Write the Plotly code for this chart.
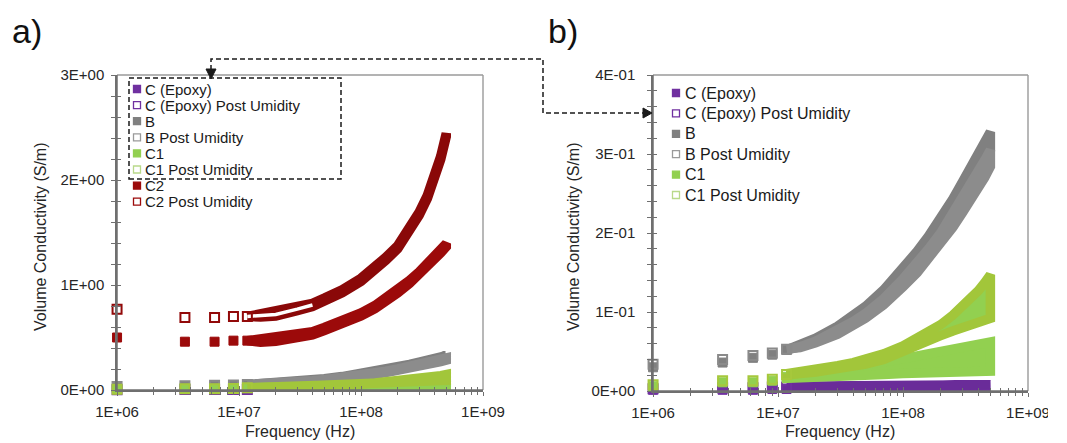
import plotly.graph_objects as go

W, H = 1067, 443

# ---------------- data ----------------
# frequency sweep points (MHz)
freq_mhz = [1, 3.6, 6.3, 9.0, 11.7, 15, 20, 30, 40, 50, 70, 100, 130, 160, 200, 250, 300, 350, 400, 450, 500]

# volume conductivity (S/m): lower / upper edge of each sample band
epoxy_lo      = [0.001, 0.001, 0.001, 0.002, 0.002, 0.002, 0.002, 0.002, 0.003, 0.003, 0.003, 0.003, 0.003, 0.004, 0.004, 0.004, 0.004, 0.004, 0.005, 0.005, 0.005]
epoxy_hi      = [0.002, 0.002, 0.002, 0.003, 0.003, 0.003, 0.003, 0.003, 0.004, 0.004, 0.004, 0.004, 0.005, 0.005, 0.005, 0.005, 0.006, 0.006, 0.006, 0.006, 0.006]
epoxy_post_lo = [0.003, 0.004, 0.004, 0.005, 0.004, 0.004, 0.004, 0.004, 0.004, 0.004, 0.005, 0.005, 0.005, 0.005, 0.005, 0.006, 0.006, 0.006, 0.006, 0.007, 0.007]
epoxy_post_hi = [0.003, 0.004, 0.004, 0.005, 0.006, 0.006, 0.006, 0.006, 0.006, 0.006, 0.006, 0.007, 0.007, 0.007, 0.007, 0.007, 0.008, 0.008, 0.008, 0.008, 0.008]
b_lo          = [0.030, 0.036, 0.042, 0.046, 0.052, 0.056, 0.063, 0.076, 0.088, 0.098, 0.117, 0.142, 0.162, 0.180, 0.200, 0.224, 0.244, 0.262, 0.278, 0.292, 0.305]
b_hi          = [0.030, 0.036, 0.042, 0.046, 0.052, 0.058, 0.067, 0.082, 0.095, 0.107, 0.128, 0.155, 0.177, 0.196, 0.218, 0.243, 0.265, 0.284, 0.300, 0.315, 0.328]
b_post_lo     = [0.034, 0.040, 0.045, 0.048, 0.053, 0.055, 0.061, 0.072, 0.083, 0.092, 0.109, 0.132, 0.150, 0.167, 0.186, 0.207, 0.226, 0.242, 0.256, 0.270, 0.284]
b_post_hi     = [0.034, 0.040, 0.045, 0.048, 0.053, 0.056, 0.063, 0.076, 0.088, 0.098, 0.117, 0.142, 0.162, 0.180, 0.200, 0.224, 0.244, 0.262, 0.278, 0.292, 0.305]
c1_lo         = [0.006, 0.011, 0.011, 0.013, 0.016, 0.017, 0.018, 0.019, 0.020, 0.020, 0.021, 0.022, 0.022, 0.023, 0.023, 0.023, 0.024, 0.024, 0.025, 0.025, 0.025]
c1_hi         = [0.006, 0.011, 0.011, 0.013, 0.020, 0.022, 0.024, 0.028, 0.031, 0.033, 0.037, 0.041, 0.044, 0.047, 0.049, 0.052, 0.054, 0.056, 0.058, 0.060, 0.062]
c1_post_lo    = [0.008, 0.013, 0.013, 0.015, 0.020, 0.022, 0.024, 0.028, 0.031, 0.034, 0.040, 0.049, 0.057, 0.064, 0.070, 0.076, 0.080, 0.084, 0.087, 0.090, 0.092]
c1_post_hi    = [0.008, 0.013, 0.013, 0.015, 0.022, 0.024, 0.027, 0.032, 0.036, 0.040, 0.047, 0.057, 0.066, 0.075, 0.084, 0.096, 0.107, 0.117, 0.127, 0.137, 0.147]
c2_lo         = [0.50, 0.46, 0.46, 0.47, 0.47, 0.455, 0.465, 0.495, 0.525, 0.565, 0.625, 0.705, 0.775, 0.845, 0.925, 1.015, 1.095, 1.175, 1.245, 1.305, 1.365]
c2_hi         = [0.50, 0.46, 0.46, 0.47, 0.47, 0.485, 0.495, 0.525, 0.555, 0.595, 0.655, 0.735, 0.805, 0.875, 0.955, 1.045, 1.125, 1.205, 1.275, 1.335, 1.395]
c2_post_lo    = [0.77, 0.69, 0.69, 0.70, 0.70, 0.695, 0.705, 0.755, 0.795, 0.845, 0.925, 1.035, 1.135, 1.235, 1.345, 1.505, 1.665, 1.825, 1.995, 2.195, 2.415]
c2_post_hi    = [0.77, 0.69, 0.69, 0.70, 0.70, 0.725, 0.735, 0.785, 0.825, 0.875, 0.955, 1.065, 1.165, 1.265, 1.375, 1.535, 1.695, 1.855, 2.025, 2.225, 2.445]

series_names = ["C (Epoxy)", "C (Epoxy) Post Umidity", "B", "B Post Umidity",
                "C1", "C1 Post Umidity", "C2", "C2 Post Umidity"]

x_tick_vals = [1e6, 1e7, 1e8, 1e9]
x_tick_text = ["1E+06", "1E+07", "1E+08", "1E+09"]
ya_tick_vals = [0, 1, 2, 3]
ya_tick_text = ["0E+00", "1E+00", "2E+00", "3E+00"]
yb_tick_vals = [0, 0.1, 0.2, 0.3, 0.4]
yb_tick_text = ["0E+00", "1E-01", "2E-01", "3E-01", "4E-01"]

# ---------------- styling ----------------
FONT = "Liberation Sans, Arial, sans-serif"
AXC = "#6f6f6f"
FRAME = "#9a9a9a"
TXT = "#262626"
N_SPARSE = 5   # first sweep points drawn as separate squares
N_HOLLOW = 9   # open-marker band still shows white interiors up to this point
XR = [5.9995, 9.0]  # log10 range (tiny pad so the 1 MHz points stay visible)

styles = [
    dict(lo=epoxy_lo, hi=epoxy_hi, col="#7030A0", fill="#7030A0", edge="#7030A0", open=False),
    dict(lo=epoxy_post_lo, hi=epoxy_post_hi, col="#7030A0", fill="#6a2c99", edge="#6a2c99", open=True),
    dict(lo=b_lo, hi=b_hi, col="#808080", fill="#808080", edge="#808080", open=False),
    dict(lo=b_post_lo, hi=b_post_hi, col="#8a8a8a", fill="#9c9c9c", edge="#8c8c8c", open=True),
    dict(lo=c1_lo, hi=c1_hi, col="#92D050", fill="#92D050", edge="#92D050", open=False),
    dict(lo=c1_post_lo, hi=c1_post_hi, col="#A6C83C", fill="#92D050", edge="#A2C63A", open=True),
    dict(lo=c2_lo, hi=c2_hi, col="#9C0A0A", fill="#9C0A0A", edge="#9C0A0A", open=False),
    dict(lo=c2_post_lo, hi=c2_post_hi, col="#920909", fill="#980A0A", edge="#8A0808", open=True, hollow=True),
]
legend_cols = ["#7030A0", "#7030A0", "#808080", "#9a9a9a", "#92D050", "#B9D98A", "#9C0A0A", "#9C0A0A"]

freq = [v * 1e6 for v in freq_mhz]


def px(x):
    return x / W


def py(y):
    return 1 - y / H


fig = go.Figure()


def add_series(st, xa, ya):
    lo, hi = st["lo"], st["hi"]
    f = freq[N_SPARSE - 1:]
    l = lo[N_SPARSE - 1:]
    h = hi[N_SPARSE - 1:]
    xs = f + f[::-1] + [f[0]]
    ys = h + l[::-1] + [h[0]]
    fig.add_trace(go.Scatter(x=xs, y=ys, mode="lines", fill="toself",
                             fillcolor=st["fill"], line=dict(color=st["edge"], width=9.5),
                             xaxis=xa, yaxis=ya, cliponaxis=False,
                             hoverinfo="skip", showlegend=False))
    mid = [(a + b) / 2 for a, b in zip(lo, hi)]
    if st.get("hollow"):
        # interiors of the sparse open squares at the start of the sweep
        fig.add_trace(go.Scatter(x=freq[N_SPARSE - 1:N_HOLLOW], y=mid[N_SPARSE - 1:N_HOLLOW],
                                 mode="lines", line=dict(color="white", width=3.5),
                                 xaxis=xa, yaxis=ya, cliponaxis=False,
                                 hoverinfo="skip", showlegend=False))
    if st["open"]:
        mk = dict(symbol="square-open", size=9, color=st["col"], line=dict(width=2, color=st["col"]))
    else:
        mk = dict(symbol="square", size=9, color=st["col"], line=dict(width=1, color=st["col"]))
    fig.add_trace(go.Scatter(x=freq[:N_SPARSE], y=mid[:N_SPARSE], mode="markers", marker=mk,
                             xaxis=xa, yaxis=ya, cliponaxis=False,
                             hoverinfo="skip", showlegend=False))


for st in styles:
    add_series(st, "x", "y")
for st in styles[:6]:
    add_series(st, "x2", "y2")

# dummy traces so overlay axes (inner half of the crossing ticks) are drawn
for xa, ya in [("x3", "y"), ("x", "y3"), ("x4", "y2"), ("x2", "y4")]:
    fig.add_trace(go.Scatter(x=[None], y=[None], xaxis=xa, yaxis=ya, showlegend=False, hoverinfo="skip"))

minor_x = [m * 10 ** k for k in (6, 7, 8) for m in range(2, 10)]
minor_ya = [i * 0.2 for i in range(1, 15) if i % 5]
minor_yb = [i * 0.02 for i in range(1, 20) if i % 5]

# plot-area corners in pixels (left, right, bottom, top)
A_BOX = (117, 483, 390, 75)
B_BOX = (653, 1028, 391, 75)
xa_dom = [px(A_BOX[0]), px(A_BOX[1])]
xb_dom = [px(B_BOX[0]), px(B_BOX[1])]
ya_dom = [py(A_BOX[2]), py(A_BOX[3])]
yb_dom = [py(B_BOX[2]), py(B_BOX[3])]

tickfont = dict(family=FONT, size=15, color=TXT)


def xaxis_main(dom, anchor):
    return dict(domain=dom, type="log", range=XR, anchor=anchor, automargin=False,
                tickmode="array", tickvals=x_tick_vals, ticktext=x_tick_text,
                ticks="outside", ticklen=4, tickcolor=AXC, tickwidth=1.2,
                showline=True, linecolor=AXC, linewidth=1.5, mirror=False,
                showgrid=False, zeroline=False, tickfont=tickfont,
                ticklabelstandoff=3, layer="above traces",
                minor=dict(tickmode="array", tickvals=minor_x, ticks="outside", ticklen=3,
                           tickcolor=AXC, tickwidth=1.2, showgrid=False))


def xaxis_over(over, anchor):
    return dict(overlaying=over, type="log", range=XR, anchor=anchor, automargin=False,
                tickmode="array", tickvals=x_tick_vals, ticks="inside", ticklen=4,
                tickcolor=AXC, tickwidth=1.2, showticklabels=False, showline=False,
                showgrid=False, zeroline=False,
                minor=dict(tickmode="array", tickvals=minor_x, ticks="inside", ticklen=3,
                           tickcolor=AXC, tickwidth=1.2, showgrid=False))


def yaxis_main(dom, anchor, rng, tv, tt, mv, standoff):
    return dict(domain=dom, range=rng, anchor=anchor, automargin=False,
                tickmode="array", tickvals=tv, ticktext=tt,
                ticks="outside", ticklen=4, tickcolor=AXC, tickwidth=1.2,
                showline=True, linecolor=AXC, linewidth=1.5, mirror=False,
                showgrid=False, zeroline=False, tickfont=tickfont,
                ticklabelstandoff=standoff, layer="above traces",
                minor=dict(tickmode="array", tickvals=mv, ticks="outside", ticklen=4,
                           tickcolor=AXC, tickwidth=1.2, showgrid=False))


def yaxis_over(over, anchor, rng, tv, mv):
    return dict(overlaying=over, range=rng, anchor=anchor, automargin=False,
                tickmode="array", tickvals=tv, ticks="inside", ticklen=4,
                tickcolor=AXC, tickwidth=1.2, showticklabels=False, showline=False,
                showgrid=False, zeroline=False,
                minor=dict(tickmode="array", tickvals=mv, ticks="inside", ticklen=4,
                           tickcolor=AXC, tickwidth=1.2, showgrid=False))


shapes = []
annotations = []

# plot frames in page coordinates: light top/right border, darker left/bottom axis lines
for (l, r, b, t) in (A_BOX, B_BOX):
    shapes.append(dict(type="line", xref="paper", yref="paper",
                       x0=px(l), x1=px(r), y0=py(t), y1=py(t),
                       line=dict(color=FRAME, width=1.4), layer="above"))
    shapes.append(dict(type="line", xref="paper", yref="paper",
                       x0=px(r), x1=px(r), y0=py(t), y1=py(b),
                       line=dict(color=FRAME, width=1.4), layer="above"))
    shapes.append(dict(type="line", xref="paper", yref="paper",
                       x0=px(l), x1=px(l), y0=py(t), y1=py(b),
                       line=dict(color=AXC, width=1.5), layer="above"))
    shapes.append(dict(type="line", xref="paper", yref="paper",
                       x0=px(l), x1=px(r), y0=py(b), y1=py(b),
                       line=dict(color=AXC, width=1.5), layer="above"))


# legends (drawn as real text + square keys)
def add_legend(names, cols, opens, xm, xt, y0, dy, fs, sz):
    for i, (nm, c, op) in enumerate(zip(names, cols, opens)):
        yc = y0 + i * dy
        shapes.append(dict(type="rect", xref="paper", yref="paper",
                           x0=px(xm - sz / 2), x1=px(xm + sz / 2),
                           y0=py(yc + sz / 2), y1=py(yc - sz / 2),
                           fillcolor="white" if op else c,
                           line=dict(color=c, width=1.3)))
        annotations.append(dict(x=px(xt), y=py(yc), xref="paper", yref="paper",
                                text=nm, showarrow=False, xanchor="left", yanchor="middle",
                                font=dict(family=FONT, size=fs, color="#1a1a1a")))


opens = [st["open"] for st in styles]
add_legend(series_names, legend_cols, opens, 137, 143, 89, 16.1, 15, 7)
add_legend(series_names[:6], legend_cols[:6], opens[:6], 676, 683, 93, 20.4, 16, 7)

# dashed box and arrow path
dash = dict(color="#1a1a1a", width=1.5, dash="5px,3px")
shapes.append(dict(type="rect", xref="paper", yref="paper",
                   x0=px(129), x1=px(341), y0=py(179), y1=py(78), line=dash))
path = "M {} {} L {} {} L {} {} L {} {} L {} {}".format(
    px(211), py(70), px(211), py(59), px(543), py(59), px(543), py(113), px(644), py(113))
shapes.append(dict(type="path", xref="paper", yref="paper", path=path, line=dash))
shapes.append(dict(type="path", xref="paper", yref="paper",
                   path="M {} {} L {} {} L {} {} Z".format(px(206), py(69), px(216), py(69), px(211), py(79)),
                   fillcolor="#1a1a1a", line=dict(color="#1a1a1a", width=1)))
shapes.append(dict(type="path", xref="paper", yref="paper",
                   path="M {} {} L {} {} L {} {} Z".format(px(643), py(108), px(643), py(118), px(652), py(113)),
                   fillcolor="#1a1a1a", line=dict(color="#1a1a1a", width=1)))

# right edge of the source image is cropped
shapes.append(dict(type="rect", xref="paper", yref="paper", layer="above",
                   x0=px(1048), x1=1, y0=0, y1=py(396), fillcolor="white", line=dict(width=0)))

# panel labels and axis titles
for txt, x in [("a)", 10), ("b)", 546)]:
    annotations.append(dict(x=px(x), y=py(31), xref="paper", yref="paper", text=txt,
                            showarrow=False, xanchor="left", yanchor="middle",
                            font=dict(family=FONT, size=34, color="#111")))
for x in (300, 840):
    annotations.append(dict(x=px(x), y=py(431), xref="paper", yref="paper", text="Frequency (Hz)",
                            showarrow=False, xanchor="center", yanchor="middle",
                            font=dict(family=FONT, size=16, color=TXT)))
for x in (40, 573):
    annotations.append(dict(x=px(x), y=py(237), xref="paper", yref="paper",
                            text="Volume Conductivity (S/m)", textangle=-90,
                            showarrow=False, xanchor="center", yanchor="middle",
                            font=dict(family=FONT, size=16, color=TXT)))

fig.update_layout(
    template="none",
    width=W, height=H, margin=dict(l=0, r=0, t=0, b=0, pad=0, autoexpand=False),
    paper_bgcolor="white", plot_bgcolor="white", showlegend=False,
    font=dict(family=FONT, color=TXT),
    xaxis=xaxis_main(xa_dom, "y"),
    xaxis2=xaxis_main(xb_dom, "y2"),
    xaxis3=xaxis_over("x", "y"),
    xaxis4=xaxis_over("x2", "y2"),
    yaxis=yaxis_main(ya_dom, "x", [0, 3], ya_tick_vals, ya_tick_text, minor_ya, 4),
    yaxis2=yaxis_main(yb_dom, "x2", [0, 0.4], yb_tick_vals, yb_tick_text, minor_yb, 9),
    yaxis3=yaxis_over("y", "x", [0, 3], ya_tick_vals, minor_ya),
    yaxis4=yaxis_over("y2", "x2", [0, 0.4], yb_tick_vals, minor_yb),
    shapes=shapes, annotations=annotations,
)

fig.write_html("out.html")
